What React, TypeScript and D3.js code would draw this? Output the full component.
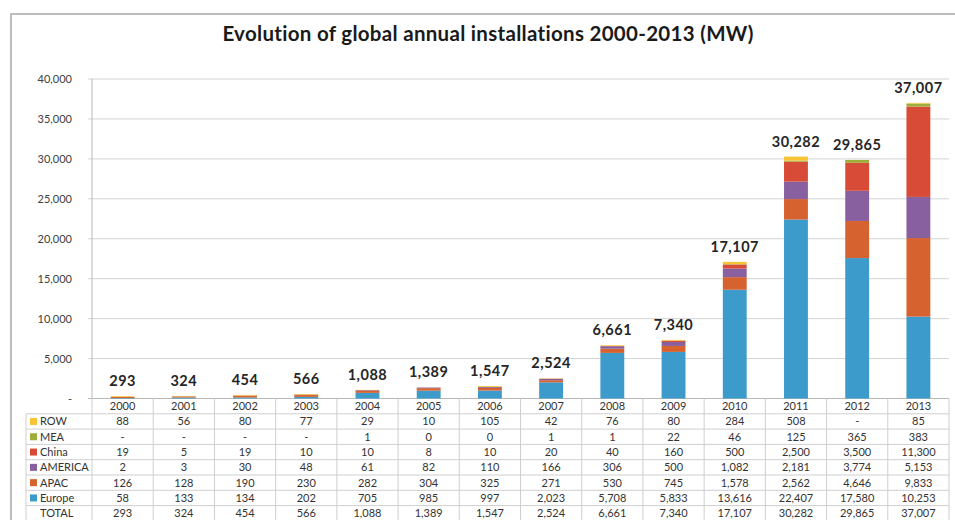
import React from "react";
import * as d3 from "d3";

const years = ["2000","2001","2002","2003","2004","2005","2006","2007","2008","2009","2010","2011","2012","2013"];
const ROW = [88,56,80,77,29,10,105,42,76,80,284,508,null,85];
const MEA = [null,null,null,null,1,0,0,1,1,22,46,125,365,383];
const China = [19,5,19,10,10,8,10,20,40,160,500,2500,3500,11300];
const AMERICA = [2,3,30,48,61,82,110,166,306,500,1082,2181,3774,5153];
const APAC = [126,128,190,230,282,304,325,271,530,745,1578,2562,4646,9833];
const Europe = [58,133,134,202,705,985,997,2023,5708,5833,13616,22407,17580,10253];
const TOTAL = [293,324,454,566,1088,1389,1547,2524,6661,7340,17107,30282,29865,37007];
const yTicks = [0,5000,10000,15000,20000,25000,30000,35000,40000];

const seriesNames = ["Europe","APAC","AMERICA","China","MEA","ROW"];
const seriesValues: Record<string,(number|null)[]> = { Europe, APAC, AMERICA, China, MEA, ROW };
const colors: Record<string,string> = {
  ROW: "#F7C433",
  MEA: "#9EAC3A",
  China: "#D74B37",
  AMERICA: "#8860A0",
  APAC: "#D5622F",
  Europe: "#3C9BCA",
};
const tableRows = ["ROW","MEA","China","AMERICA","APAC","Europe"];

const FONT = "Lato, 'Open Sans', sans-serif";

export default function App() {
  const W = 955, H = 520;
  const left = 92, right = 949, top = 79, bottom = 398.5;
  const x = d3.scaleBand<string>().domain(years).range([left, right]).paddingInner(0).paddingOuter(0);
  const y = d3.scaleLinear().domain([0, 40000]).range([bottom, top]);
  const barW = x.bandwidth() * 0.39;
  const fmt = d3.format(",");

  const tableData = years.map((yr, i) => {
    const o: any = { year: yr };
    seriesNames.forEach(s => { o[s] = seriesValues[s][i] ?? 0; });
    return o;
  });
  const stacked = d3.stack<any>().keys(seriesNames)(tableData);

  const rowH = 15.3;
  const tableLeft = 26;
  const nRows = tableRows.length + 2;
  const rowTop = (k: number) => bottom + k * rowH;
  const cell = (v: number | null) => (v === null ? "-" : fmt(v));

  return (
    <div style={{ position: "absolute", left: 0, top: 0 }}>
      <svg width={W} height={H} style={{ display: "block", fontFamily: FONT }}>
        <rect x={0} y={0} width={W} height={H} fill="#fff" />
        <rect x={11} y={14} width={W + 20} height={H + 20} fill="none" stroke="#bdbdbd" strokeWidth={2} />
        <text x={488} y={41} textAnchor="middle" fontSize={20.5} fontWeight="bold" letterSpacing={0.3} fill="#1a1a1a">
          Evolution of global annual installations 2000-2013 (MW)
        </text>

        {yTicks.map(t => (
          <g key={t}>
            <line x1={left - 4} x2={right} y1={y(t)} y2={y(t)} stroke={t === 0 ? "#b8b8b8" : "#d4d4d4"} strokeWidth={1} />
            <text x={72} y={y(t) + 4} textAnchor="end" fontSize={11} fill="#404040">
              {t === 0 ? "-" : fmt(t)}
            </text>
          </g>
        ))}
        <line x1={left} x2={left} y1={top} y2={bottom} stroke="#b8b8b8" />

        {stacked.map(layer => (
          <g key={layer.key} fill={colors[layer.key]}>
            {layer.map((d, i) => {
              const h = y(d[0]) - y(d[1]);
              if (h <= 0) return null;
              return (
                <rect key={i} x={(x(years[i]) as number) + (x.bandwidth() - barW) / 2} y={y(d[1])} width={barW} height={h} />
              );
            })}
          </g>
        ))}

        {years.map((yr, i) => (
          <text key={yr} x={(x(yr) as number) + x.bandwidth() / 2} y={y(TOTAL[i]) - 10} textAnchor="middle" fontSize={14.5} fontWeight="bold" letterSpacing={0.5} fill="#262626">
            {fmt(TOTAL[i])}
          </text>
        ))}

        <g stroke="#cfcfcf" strokeWidth={1}>
          {d3.range(1, nRows + 1).map(k => (
            <line key={"h" + k} x1={tableLeft} x2={right} y1={rowTop(k)} y2={rowTop(k)} />
          ))}
          <line x1={tableLeft} x2={tableLeft} y1={rowTop(1)} y2={rowTop(nRows)} />
          {years.map(yr => (
            <line key={"v" + yr} x1={(x(yr) as number) + x.bandwidth()} x2={(x(yr) as number) + x.bandwidth()} y1={bottom} y2={rowTop(nRows)} />
          ))}
          <line x1={left} x2={left} y1={bottom} y2={rowTop(nRows)} />
        </g>

        {years.map(yr => (
          <text key={"hd" + yr} x={(x(yr) as number) + x.bandwidth() / 2} y={rowTop(0) + rowH / 2 + 4} textAnchor="middle" fontSize={11} fill="#333">
            {yr}
          </text>
        ))}

        {tableRows.map((s, r) => (
          <g key={s}>
            <rect x={30} y={rowTop(r + 1) + rowH / 2 - 3.5} width={7} height={7} fill={colors[s]} />
            <text x={40} y={rowTop(r + 1) + rowH / 2 + 4} fontSize={11} fill="#333">{s}</text>
            {years.map((yr, i) => (
              <text key={yr} x={(x(yr) as number) + x.bandwidth() / 2} y={rowTop(r + 1) + rowH / 2 + 4} textAnchor="middle" fontSize={11} fill="#333">
                {cell(seriesValues[s][i])}
              </text>
            ))}
          </g>
        ))}
        <g>
          <text x={40} y={rowTop(7) + rowH / 2 + 4} fontSize={11} fill="#333">TOTAL</text>
          {years.map((yr, i) => (
            <text key={yr} x={(x(yr) as number) + x.bandwidth() / 2} y={rowTop(7) + rowH / 2 + 4} textAnchor="middle" fontSize={11} fill="#333">
              {fmt(TOTAL[i])}
            </text>
          ))}
        </g>
      </svg>
    </div>
  );
}
